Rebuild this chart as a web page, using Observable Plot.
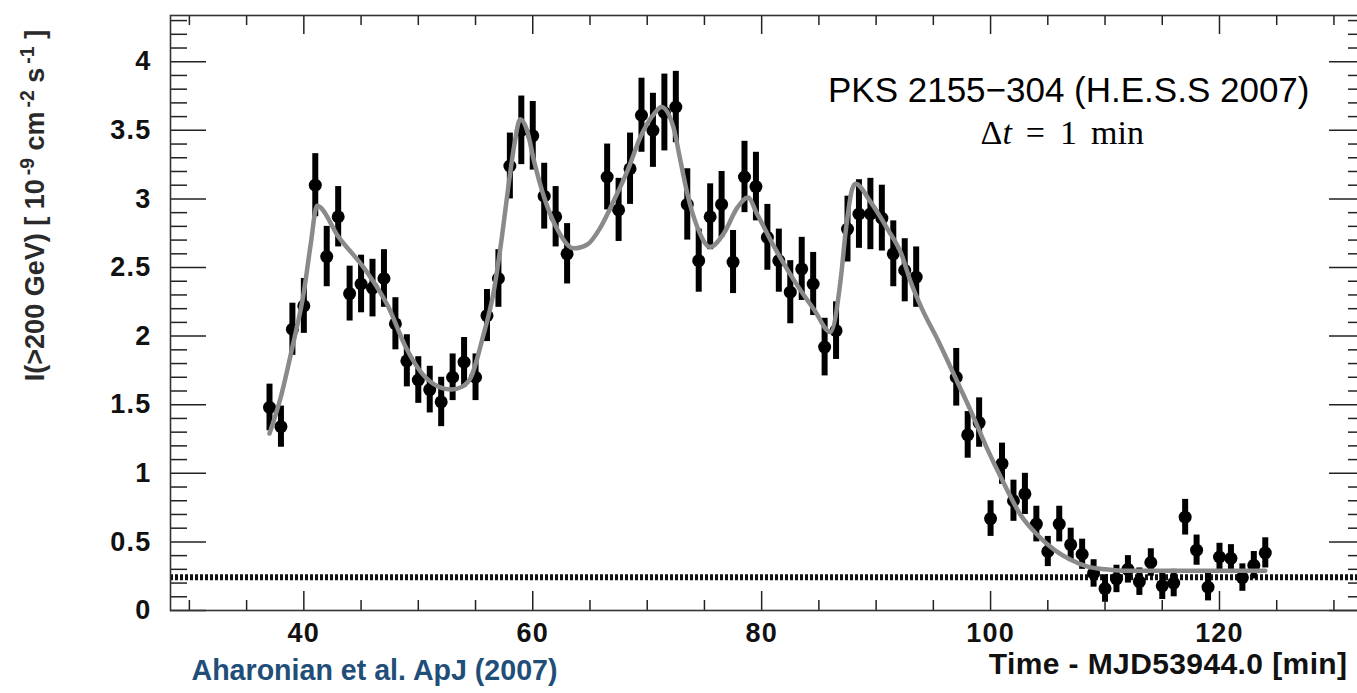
<!DOCTYPE html>
<html><head><meta charset="utf-8">
<script src="https://cdn.jsdelivr.net/npm/d3@7"></script>
<script src="https://cdn.jsdelivr.net/npm/@observablehq/plot@0.6"></script>
<style>
html,body{margin:0;padding:0;background:#fff;overflow:hidden;width:1357px}
#chart{width:1357px;overflow:hidden}
#chart svg{max-width:none !important;display:block}
g[aria-label$="tick label"] text{letter-spacing:1.2px}
</style></head><body><div id="chart"></div>
<script>
// Light curve: time (min after MJD 53944.0), integral flux I(>200 GeV) [1e-9 cm^-2 s^-1], 1-sigma error
const times = [37,38,39,40,41,42,43,44,45,46,47,48,49,50,51,52,53,54,55,56,57,58,59,60,61,62,63,
  66.5,67.5,68.5,69.5,70.5,71.5,72.5,73.5,74.5,75.5,76.5,77.5,78.5,79.5,80.5,81.5,82.5,83.5,84.5,85.5,86.5,87.5,88.5,89.5,90.5,91.5,92.5,93.5,
  97,98,99,100,101,102,103,104,105,106,107,108,109,110,111,112,113,114,115,116,117,118,119,120,121,122,123,124];
const flux = [1.48,1.34,2.05,2.22,3.10,2.58,2.87,2.31,2.38,2.35,2.42,2.09,1.82,1.68,1.61,1.52,1.70,1.81,1.70,2.15,2.42,3.24,3.50,3.46,3.02,2.87,2.60,
  3.16,2.92,3.22,3.61,3.50,3.63,3.67,2.96,2.55,2.87,2.96,2.54,3.16,3.09,2.72,2.55,2.32,2.49,2.38,1.92,2.04,2.78,2.89,2.89,2.86,2.60,2.48,2.43,
  1.70,1.28,1.37,0.67,1.07,0.80,0.85,0.63,0.43,0.63,0.48,0.41,0.27,0.16,0.23,0.30,0.21,0.35,0.18,0.20,0.68,0.44,0.17,0.39,0.38,0.24,0.33,0.42];
const errs = [0.17,0.15,0.19,0.20,0.23,0.22,0.22,0.20,0.21,0.21,0.21,0.19,0.19,0.17,0.17,0.18,0.17,0.18,0.17,0.19,0.21,0.24,0.25,0.25,0.24,0.22,0.22,
  0.24,0.23,0.26,0.27,0.27,0.28,0.26,0.26,0.23,0.24,0.24,0.23,0.26,0.25,0.24,0.23,0.23,0.23,0.23,0.21,0.21,0.24,0.25,0.26,0.24,0.24,0.23,0.22,
  0.21,0.17,0.18,0.13,0.15,0.15,0.15,0.13,0.11,0.13,0.12,0.11,0.10,0.10,0.10,0.10,0.10,0.10,0.10,0.10,0.13,0.11,0.10,0.10,0.10,0.10,0.10,0.11];

// Fitted model curve
const fitTimes = [37.0,38.0,39.0,40.0,40.6,41.15,43.06,45.4,47.4,48.9,50.3,51.8,52.9,53.8,54.6,55.6,56.6,57.3,57.9,58.4,58.9,59.5,60.1,61.0,62.2,63.6,64.8,65.9,67.1,68.3,69.4,70.6,71.25,72.3,72.9,73.5,74.4,75.5,76.7,77.9,78.8,79.6,81.1,82.8,84.6,86.0,86.9,87.35,87.9,88.2,89.5,91.0,92.2,93.0,94.0,95.4,96.8,98.3,99.7,101.2,102.6,104.1,105.6,107.0,108.5,110.0,111.5,116.0,124.0];
const fitFlux = [1.29,1.56,1.92,2.32,2.67,2.95,2.72,2.48,2.21,1.92,1.73,1.63,1.61,1.63,1.70,1.98,2.33,2.72,3.11,3.40,3.58,3.50,3.28,3.01,2.77,2.64,2.67,2.79,2.99,3.21,3.45,3.62,3.67,3.52,3.28,3.04,2.79,2.65,2.75,2.94,3.01,2.89,2.65,2.41,2.19,2.03,2.41,2.77,3.07,3.11,2.98,2.78,2.60,2.40,2.20,1.97,1.72,1.45,1.18,0.92,0.70,0.55,0.44,0.37,0.32,0.30,0.29,0.29,0.29];

// Baseline dashed line
const baseline = [0.243];

// Ticks
const xMajorTicks = [40,60,80,100,120];
const xMinorTicks = [30,35,45,50,55,65,70,75,85,90,95,105,110,115,125,130];
const yMajorTicks = [0,0.5,1,1.5,2,2.5,3,3.5,4];
const yMinorTicks = [0.1,0.2,0.3,0.4,0.6,0.7,0.8,0.9,1.1,1.2,1.3,1.4,1.6,1.7,1.8,1.9,2.1,2.2,2.3,2.4,2.6,2.7,2.8,2.9,3.1,3.2,3.3,3.4,3.6,3.7,3.8,3.9,4.1,4.2,4.3];

const sourceLabel = "PKS 2155\u2212304 (H.E.S.S 2007)";
const binLabel = "\u0394t = 1 min";
const refLabel = "Aharonian et al. ApJ (2007)";
const xTitle = "Time - MJD53944.0 [min]";
const yTitle = "I(>200 GeV) [ 10-9 cm-2 s-1 ]";

const points = times.map((t, i) => ({t, v: flux[i], e: errs[i]}));
const fit = fitTimes.map((t, i) => ({t, v: fitFlux[i]}));

const tickStyle = {stroke: "#222", strokeWidth: 1.5, label: null, tickFormat: () => ""};
const labelFont = {fontSize: 27, fontWeight: "bold", fill: "#111"};

const svg = Plot.plot({
  width: 1364, height: 693,
  marginLeft: 170, marginRight: 0, marginTop: 15, marginBottom: 83,
  x: {domain: [28.35, 132.67]},
  y: {domain: [0, 4.337]},
  style: {fontFamily: "'Liberation Sans', Arial, sans-serif", background: "white", color: "#111", maxWidth: "none"},
  marks: [
    Plot.ruleY(baseline, {stroke: "#111", strokeWidth: 6, strokeDasharray: "3,2"}),
    Plot.ruleX(points, {x: "t", y1: d => d.v - d.e, y2: d => d.v + d.e, stroke: "black", strokeWidth: 6}),
    Plot.dot(points, {x: "t", y: "v", r: 6.5, fill: "black", stroke: null}),
    Plot.line(fit, {x: "t", y: "v", stroke: "#8a8a8a", strokeWidth: 4.5, curve: "monotone-x"}),
    // inward ticks on all four sides
    Plot.axisX(xMajorTicks, {anchor: "bottom", tickSize: -19, ...tickStyle}),
    Plot.axisX(xMinorTicks, {anchor: "bottom", tickSize: -10, ...tickStyle}),
    Plot.axisX(xMajorTicks, {anchor: "top", tickSize: -18, ...tickStyle}),
    Plot.axisX(xMinorTicks, {anchor: "top", tickSize: -9, ...tickStyle}),
    Plot.axisY(yMajorTicks, {anchor: "left", tickSize: -36, ...tickStyle}),
    Plot.axisY(yMinorTicks, {anchor: "left", tickSize: -17, ...tickStyle}),
    Plot.axisY(yMajorTicks, {anchor: "right", tickSize: -36, ...tickStyle}),
    Plot.axisY(yMinorTicks, {anchor: "right", tickSize: -17, ...tickStyle}),
    // tick labels
    Plot.axisX(xMajorTicks, {anchor: "bottom", tickSize: 0, tickPadding: 12, label: null, tickFormat: d => String(d), ...labelFont}),
    Plot.axisY(yMajorTicks, {anchor: "left", tickSize: 0, tickPadding: 19, label: null, tickFormat: d => String(d), ...labelFont}),
    Plot.frame({stroke: "#333", strokeWidth: 1.6}),
    // annotations
    Plot.text([sourceLabel], {frameAnchor: "top-right", textAnchor: "end", dx: -55, dy: 61.5, fontSize: 35, fill: "#000"}),
    Plot.text([binLabel], {frameAnchor: "top-right", textAnchor: "start", dx: -384, dy: 104.5, fontSize: 34, fontFamily: "'Liberation Serif', 'Times New Roman', serif", fill: "#000"}),
    Plot.text([refLabel], {frameAnchor: "bottom-left", textAnchor: "start", dx: 21, dy: 69, fontSize: 28.6, fontWeight: "bold", fill: "#1f4e79"}),
    Plot.text([xTitle], {frameAnchor: "bottom-right", textAnchor: "end", dx: -17, dy: 63, fontSize: 30, fontWeight: "bold", fill: "#111"}),
    Plot.text([yTitle], {frameAnchor: "left", rotate: -90, textAnchor: "middle", dx: -135, dy: -107.5, fontSize: 27, fontWeight: "bold", fill: "#2a2a2a"})
  ]
});

// rich text: italic t and superscripts
const sel = d3.select(svg);
sel.selectAll("text").filter(function() { return this.textContent === binLabel; }).each(function() {
  const t = d3.select(this); t.text(null);
  t.append("tspan").text("\u0394");
  t.append("tspan").attr("font-style", "italic").text("t");
  t.append("tspan").attr("dx", 14).text("=");
  t.append("tspan").attr("dx", 15).text("1");
  t.append("tspan").attr("dx", 14).text("min");
});
sel.selectAll("text").filter(function() { return this.textContent === xTitle; }).style("letter-spacing", "0.4px");
sel.selectAll("text").filter(function() { return this.textContent === yTitle; }).each(function() {
  const t = d3.select(this); t.text(null);
  const parts = [["I(>200 GeV) [ 10", 0], ["-9", 1], [" cm", 0], ["-2", 1], [" s", 0], ["-1", 1], [" ]", 0]];
  let up = false;
  for (const [s, sup] of parts) {
    const sp = t.append("tspan").text(s);
    if (sup && !up) { sp.attr("dy", "-0.5em").attr("font-size", "0.72em").attr("dx", 4); up = true; }
    else if (!sup && up) { sp.attr("dy", "0.36em"); up = false; }
    else if (sup) sp.attr("font-size", "0.72em");
  }
});

document.getElementById("chart").appendChild(svg);
</script></body></html>
